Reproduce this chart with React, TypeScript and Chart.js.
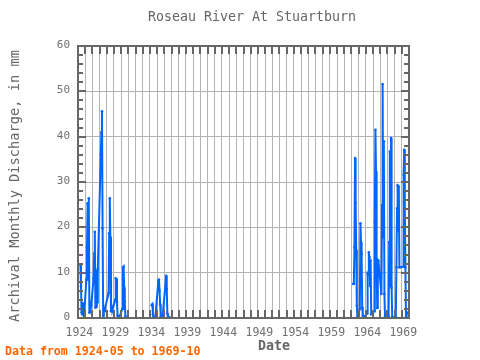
import React, { useEffect, useRef } from "react";
import { Chart, registerables } from "chart.js";

Chart.register(...registerables);

const TITLE = "Roseau River At Stuartburn";
const Y_TITLE = "Archival Monthly Discharge, in mm";
const X_TITLE = "Date";
const FOOTER = "Data from 1924-05 to 1969-10";

const xLabelYears = [1924, 1929, 1934, 1939, 1944, 1949, 1954, 1959, 1964, 1969];
const yLabelValues = [0, 10, 20, 30, 40, 50, 60];

// monthly record (null = no data, line broken)
const months: string[] = [
  "1924-05", "1924-06", "1924-07", "1924-08", "1924-09", "1924-10", "1924-11",
  "1925-03", "1925-04", "1925-05", "1925-06", "1925-07", "1925-08", "1925-09", "1925-10", "1925-11",
  "1926-03", "1926-04", "1926-05", "1926-06", "1926-07", "1926-08", "1926-09", "1926-10",
  "1927-03", "1927-04", "1927-05", "1927-06", "1927-07", "1927-08", "1927-09", "1927-10",
  "1928-03", "1928-04", "1928-05", "1928-06", "1928-07", "1928-08", "1928-09", "1928-10",
  "1929-03", "1929-04", "1929-05", "1929-06", "1929-07", "1929-08", "1929-09", "1929-10",
  "1930-03", "1930-04", "1930-05", "1930-06", "1930-07", "1930-08", "1930-09", "1930-10",
  "1932-06",
  "1934-04", "1934-05", "1934-06", "1934-07", "1934-08", "1934-09", "1934-10",
  "1935-03", "1935-04", "1935-05", "1935-06", "1935-07", "1935-08", "1935-09", "1935-10",
  "1936-04", "1936-05", "1936-06", "1936-07", "1936-08", "1936-09", "1936-10",
  "1950-01",
  "1962-04", "1962-05", "1962-06", "1962-07", "1962-08", "1962-09", "1962-10", "1962-11",
  "1963-03", "1963-04", "1963-05", "1963-06", "1963-07", "1963-08", "1963-09", "1963-10",
  "1964-03", "1964-04", "1964-05", "1964-06", "1964-07", "1964-08", "1964-09", "1964-10",
  "1965-03", "1965-04", "1965-05", "1965-06", "1965-07", "1965-08", "1965-09", "1965-10",
  "1966-03", "1966-04", "1966-05", "1966-06", "1966-07", "1966-08", "1966-09", "1966-10",
  "1967-03", "1967-04", "1967-05", "1967-06", "1967-07", "1967-08", "1967-09", "1967-10",
  "1968-03", "1968-04", "1968-05", "1968-06", "1968-07", "1968-08", "1968-09", "1968-10",
  "1969-03", "1969-04", "1969-05", "1969-06", "1969-07", "1969-08", "1969-09", "1969-10",
];

const discharge: (number | null)[] = [
  11.8, 7.0, 1.2, 0.8, 3.2, 3.1, 0.3,
  8.5, 15.6, 25.3, 8.5, 26.4, 1.2, 3.0, 3.3, 2.8,
  8.7, 14.2, 19.0, 2.3, 10.4, 2.5, 3.5, 10.8,
  36.0, 40.9, 45.6, 19.8, 0.5, 2.0, 1.5, 2.2,
  4.9, 5.5, 18.7, 26.4, 17.8, 1.5, 2.5, 1.5,
  4.0, 8.7, 8.6, 3.5, 0.5, 0.2, 0.1, 0.2,
  2.0, 11.1, 11.3, 6.7, 3.7, 0.3, 0.1, 0.1,
  null,
  2.8, 3.0, 0.8, 0.2, 0.1, 0.1, 0.1,
  8.2, 8.5, 6.0, 3.0, 0.3, 0.1, 0.1, 0.1,
  9.3, 6.4, 1.0, 0.2, 0.1, 0.1, 0.1,
  null,
  7.5, 7.6, 15.6, 35.3, 25.3, 14.9, 2.7, 0.3,
  2.0, 20.9, 16.7, 14.2, 2.3, 0.5, 0.2, 0.2,
  1.0, 9.8, 9.6, 14.5, 13.4, 7.1, 12.7, 0.9,
  1.5, 21.2, 41.5, 32.3, 12.7, 2.2, 12.8, 12.6,
  5.3, 24.9, 51.6, 17.8, 39.0, 5.3, 0.3, 0.2,
  0.3, 16.7, 36.7, 7.0, 39.7, 6.7, 0.2, 0.1,
  0.3, 11.2, 24.2, 29.3, 19.3, 29.0, 11.2, 11.2,
  11.3, 31.6, 37.1, 24.2, 11.2, 0.3, 1.0, 1.2,
];

const X_MIN = 1924;
const X_MAX = 1970;
const Y_MIN = 0;
const Y_MAX = 60;

function toDecimal(s: string): number {
  const [y, m] = s.split("-").map(Number);
  return y + (m - 1) / 12;
}

const MONO = '"DejaVu Sans Mono", monospace';

const framePlugin = {
  id: "frameAndText",
  afterDraw(chart: any) {
    const { ctx, chartArea: a, scales } = chart;
    const xs = scales.x;
    const ys = scales.y;
    ctx.save();
    // frame
    ctx.strokeStyle = "#666666";
    ctx.lineWidth = 2;
    ctx.strokeRect(a.left, a.top, a.right - a.left, a.bottom - a.top);
    // x ticks (inward, top and bottom)
    ctx.beginPath();
    for (let yr = X_MIN + 1; yr < X_MAX; yr++) {
      const px = Math.round(xs.getPixelForValue(yr));
      ctx.moveTo(px, a.top);
      ctx.lineTo(px, a.top + 8);
      ctx.moveTo(px, a.bottom);
      ctx.lineTo(px, a.bottom - 8);
    }
    // y ticks (inward, left and right)
    for (let v = Y_MIN + 2; v < Y_MAX; v += 2) {
      const py = Math.round(ys.getPixelForValue(v));
      const len = v % 10 === 0 ? 8 : 5;
      ctx.moveTo(a.left, py);
      ctx.lineTo(a.left + len, py);
      ctx.moveTo(a.right, py);
      ctx.lineTo(a.right - len, py);
    }
    ctx.stroke();

    // tick labels
    ctx.fillStyle = "#707070";
    ctx.font = `11.5px ${MONO}`;
    ctx.textAlign = "center";
    ctx.textBaseline = "middle";
    for (const yr of xLabelYears) {
      ctx.fillText(String(yr), xs.getPixelForValue(yr + 0.2), a.bottom + 15);
    }
    ctx.font = `11px ${MONO}`;
    ctx.textAlign = "right";
    for (const v of yLabelValues) {
      ctx.fillText(String(v), a.left - 8, ys.getPixelForValue(v) - 1);
    }

    // title
    ctx.fillStyle = "#666666";
    ctx.font = `13.3px ${MONO}`;
    ctx.textAlign = "center";
    ctx.fillText(TITLE, 252, 18);
    // x title
    ctx.font = `bold 13.3px ${MONO}`;
    ctx.fillText(X_TITLE, 274, 347);
    // y title
    ctx.save();
    ctx.translate(15.5, 186);
    ctx.rotate(-Math.PI / 2);
    ctx.font = `13.7px ${MONO}`;
    ctx.fillText(Y_TITLE, 0, 0);
    ctx.restore();
    // footer
    ctx.fillStyle = "#ff6600";
    ctx.font = `bold 11.6px ${MONO}`;
    ctx.textAlign = "left";
    ctx.fillText(FOOTER, 5, 352);
    ctx.restore();
  },
};

export default function App() {
  const ref = useRef<HTMLCanvasElement | null>(null);
  useEffect(() => {
    document.body.style.margin = "0";
    const canvas = ref.current;
    if (!canvas) return;
    const points = months.map((m, i) => ({ x: toDecimal(m), y: discharge[i] }));
    const chart = new Chart(canvas, {
      type: "line",
      data: {
        datasets: [
          {
            data: points as any,
            borderColor: "#0066ff",
            backgroundColor: "#0066ff",
            borderWidth: 2,
            pointRadius: 1.3,
            pointHoverRadius: 1.3,
            pointBorderWidth: 0,
            tension: 0,
            spanGaps: false,
            fill: false,
          },
        ],
      },
      options: {
        responsive: false,
        animation: false,
        parsing: false as any,
        layout: { padding: { left: 78, right: 71, top: 46, bottom: 42 } },
        plugins: {
          legend: { display: false },
          title: { display: false },
          tooltip: { enabled: false },
        },
        scales: {
          x: {
            type: "linear",
            min: X_MIN,
            max: X_MAX,
            ticks: { display: false },
            border: { display: false },
            grid: { color: "#b4b4b4", lineWidth: 1, drawTicks: false },
            afterBuildTicks: (scale: any) => {
              const t = [];
              for (let yr = X_MIN + 1; yr < X_MAX; yr++) t.push({ value: yr });
              scale.ticks = t;
            },
            afterFit: (scale: any) => {
              scale.height = 0;
            },
          },
          y: {
            type: "linear",
            min: Y_MIN,
            max: Y_MAX,
            ticks: { display: false, stepSize: 10 },
            border: { display: false },
            grid: { color: "#b4b4b4", lineWidth: 1, drawTicks: false },
            afterFit: (scale: any) => {
              scale.width = 0;
            },
          },
        },
      },
      plugins: [framePlugin],
    });
    return () => chart.destroy();
  }, []);
  return <canvas ref={ref} width={480} height={360} style={{ display: "block" }} />;
}
